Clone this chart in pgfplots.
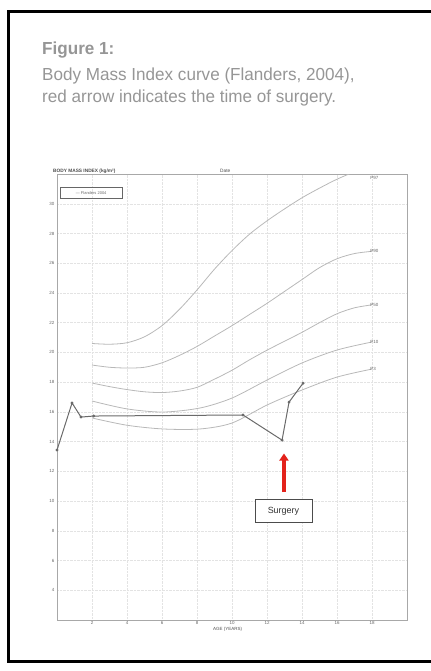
\documentclass[border=0pt]{standalone}
\usepackage{pgfplots}
\pgfplotsset{compat=1.18}
\usetikzlibrary{arrows.meta}
\usepackage{fontspec}
\setmainfont{Liberation Sans}
\newfontfamily\capfont[FakeStretch=0.98]{Liberation Sans}
\definecolor{capgray}{HTML}{969696}
\definecolor{curvegray}{HTML}{B8B8B8}
\definecolor{pgray}{HTML}{6A6A6A}
\definecolor{axgray}{HTML}{A8A8A8}
\definecolor{arrowred}{HTML}{E3221B}
\begin{document}
\begin{tikzpicture}
\useasboundingbox (0bp,0bp) rectangle (431bp,-671bp);
\draw[line width=3bp, black] (8bp,-11bp) rectangle (445bp,-661bp);
\node[anchor=base west, inner sep=0pt, text=capgray, font=\capfont\bfseries\fontsize{17.5}{20}\selectfont] at (42bp,-54bp) {Figure 1:};
\node[anchor=base west, inner sep=0pt, text=capgray, font=\capfont\fontsize{17.5}{20}\selectfont] at (42bp,-80bp) {Body Mass Index curve (Flanders, 2004),};
\node[anchor=base west, inner sep=0pt, text=capgray, font=\capfont\fontsize{17.5}{20}\selectfont] at (42bp,-102bp) {red arrow indicates the time of surgery.};
\node[anchor=base west, inner sep=0pt, text=black!70, font=\bfseries\fontsize{4.8}{5}\selectfont] at (53bp,-172bp) {BODY MASS INDEX (kg/m²)};
\node[anchor=base west, inner sep=0pt, text=black!70, font=\fontsize{4.8}{5}\selectfont] at (220bp,-172bp) {Date};
\node[anchor=base west, inner sep=0pt, text=black!70, font=\fontsize{4.5}{5}\selectfont] at (213bp,-630bp) {AGE (YEARS)};
\begin{axis}[
  at={(57bp,-620bp)}, anchor=south west,
  scale only axis, width=350bp, height=446bp,
  xmin=0, xmax=20, ymin=2, ymax=32,
  xtick={2,4,...,18}, ytick={4,6,...,30},
  grid=major, grid style={densely dotted, gray!22, line width=0.4bp},
  axis line style={axgray, line width=0.7bp},
  tick style={draw=none},
  ticklabel style={font=\fontsize{4.5}{5}\selectfont, text=black!60},
  /pgf/number format/assume math mode=true,
  xticklabel style={yshift=2bp},
  yticklabel style={xshift=1bp},
  clip=true,
]
% percentile curves
\addplot[curvegray, line width=0.8bp, smooth] coordinates {
(2,20.6) (3,20.55) (4,20.65) (5,21.05) (6,21.8) (7,22.9) (8,24.2) (9,25.6) (10,26.85) (11,27.95) (12,28.85) (13,29.65) (14,30.4) (15,31.05) (16,31.65) (17,32.15) (18,32.6)};
\addplot[curvegray, line width=0.8bp, smooth] coordinates {
(2,19.15) (3,19.0) (4,18.95) (5,19.0) (6,19.3) (7,19.8) (8,20.4) (9,21.1) (10,21.8) (11,22.55) (12,23.3) (13,24.1) (14,24.9) (15,25.7) (16,26.3) (17,26.65) (18,26.8)};
\addplot[curvegray, line width=0.8bp, smooth] coordinates {
(2,17.94) (3,17.7) (4,17.5) (5,17.35) (6,17.3) (7,17.4) (8,17.65) (9,18.2) (10,18.8) (11,19.5) (12,20.15) (13,20.75) (14,21.35) (15,22.0) (16,22.6) (17,23.0) (18,23.2)};
\addplot[curvegray, line width=0.8bp, smooth] coordinates {
(2,16.73) (4,16.2) (6.06,15.99) (8.17,16.26) (10,16.93) (12,18.14) (14,19.29) (16,20.16) (18,20.7)};
\addplot[curvegray, line width=0.8bp, smooth] coordinates {
(2,15.59) (4,15.1) (6.06,14.85) (8.17,14.85) (10,15.25) (12,16.46) (14,17.47) (16,18.34) (18,18.88)};
% patient
\addplot[pgray, line width=1bp, mark=*, mark size=0.9bp, mark options={fill=pgray}] coordinates {
(0,13.43) (0.86,16.6) (1.37,15.65) (2.1,15.72) (10.63,15.79) (12.86,14.1) (13.26,16.66) (14.06,17.93)};
% curve labels
\node[anchor=west, inner sep=0pt, text=black!60, font=\fontsize{4.5}{5}\selectfont] at (axis cs:17.9,31.73) {P97};
\node[anchor=west, inner sep=0pt, text=black!60, font=\fontsize{4.5}{5}\selectfont] at (axis cs:17.9,26.8) {P90};
\node[anchor=west, inner sep=0pt, text=black!60, font=\fontsize{4.5}{5}\selectfont] at (axis cs:17.9,23.2) {P50};
\node[anchor=west, inner sep=0pt, text=black!60, font=\fontsize{4.5}{5}\selectfont] at (axis cs:17.9,20.7) {P10};
\node[anchor=west, inner sep=0pt, text=black!60, font=\fontsize{4.5}{5}\selectfont] at (axis cs:17.9,18.88) {P3};
% legend box
\node[draw=black!60, line width=0.4bp, anchor=north west, inner sep=1.5bp, minimum width=62bp, minimum height=11bp, text=black!60, font=\fontsize{4}{5}\selectfont] at (axis cs:0.17,31.1) {--- Flanders 2004};
% surgery
\draw[arrowred, line width=3.5bp, -{Triangle[length=7bp,width=9bp]}] (axis cs:12.97,10.6) -- (axis cs:12.97,13.2);
\node[draw=black!70, line width=0.5bp, fill=white, minimum width=57bp, minimum height=23bp, text=black!80, font=\fontsize{9}{10}\selectfont] at (axis cs:12.94,9.33) {Surgery};
\end{axis}
\end{tikzpicture}
\end{document}
